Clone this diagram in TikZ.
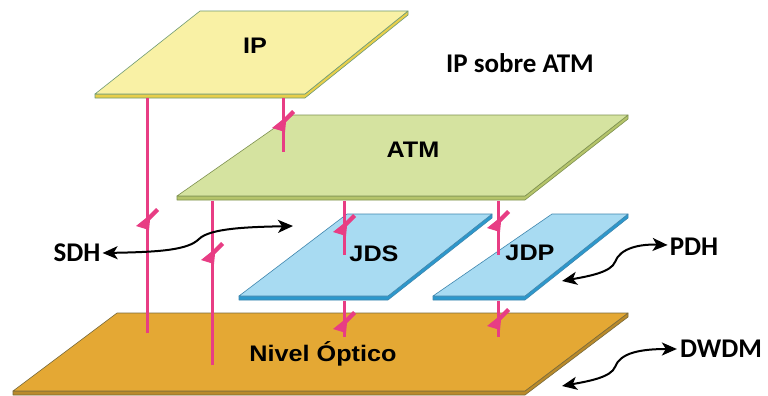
\documentclass[tikz,border=0pt]{standalone}
\usepackage{fontspec}
\usetikzlibrary{arrows.meta}
\newfontfamily\planefont{Liberation Sans}[FakeStretch=1.12]
\newfontfamily\labfont{Carlito}
\definecolor{iptop}{HTML}{F9F1A5}
\definecolor{ipside}{HTML}{E8CF4A}
\definecolor{ipline}{HTML}{6F9A74}
\definecolor{atmtop}{HTML}{D5E3A0}
\definecolor{atmside}{HTML}{B5C46A}
\definecolor{atmline}{HTML}{7E9150}
\definecolor{jtop}{HTML}{A8DBF2}
\definecolor{jside}{HTML}{2C98CC}
\definecolor{jline}{HTML}{3F86AE}
\definecolor{ntop}{HTML}{E4A834}
\definecolor{nside}{HTML}{B98A2A}
\definecolor{nline}{HTML}{7A6A3A}
\definecolor{pinkl}{HTML}{E83D84}
% #1 top, #2 side, #3 outline, #4 top y, #5 top-left x, #6 top-right x, #7 bottom y, #8 bottom-left x, #9 bottom-right x
\newcommand\layerplane[9]{%
  \filldraw[fill=#2,draw=#3,line width=0.6pt,line join=round] (#8,#7) -- (#9,#7) -- (#6,#4) -- (#6,#4+4) -- (#9,#7+4) -- (#8,#7+4) -- cycle;
  \filldraw[fill=#1,draw=#3,line width=0.6pt,line join=round] (#5,#4) -- (#6,#4) -- (#9,#7) -- (#8,#7) -- cycle;
}
\tikzset{
  link/.style={draw=pinkl,line width=3pt},
  brk/.pic={\fill[pinkl,line join=round] (9,-11) -- (12,-8) -- (3,1) -- (2,11) -- (-11,7) -- (-1,-1) -- cycle;},
  planelab/.style={font=\planefont\bfseries\fontsize{22.5}{22.5}\selectfont,anchor=base,inner sep=0pt},
  sidelab/.style={font=\labfont\bfseries\fontsize{27}{27}\selectfont,anchor=base,inner sep=0pt},
  tipa/.tip={Stealth[length=15pt,width=13pt,inset=4pt]},
  dblarrow/.style={line width=2pt,tipa-tipa},
}
\begin{document}
\begin{tikzpicture}[x=1pt,y=-1pt]
\useasboundingbox[fill=white] (0,0) rectangle (768,396);
% planes, from bottom to top
\layerplane{ntop}{nside}{nline}{313}{117}{628}{391}{13}{525}
\layerplane{jtop}{jside}{jline}{214}{347}{492}{296}{239}{388}
\layerplane{jtop}{jside}{jline}{214}{552}{628}{296}{433}{525}
\layerplane{atmtop}{atmside}{atmline}{115}{293}{628}{196}{177}{525}
\layerplane{iptop}{ipside}{ipline}{11}{200}{408}{94}{95}{305}
% vertical links
\coordinate (a1) at (147,98);  \coordinate (b1) at (147,333);
\coordinate (a2) at (283,98);  \coordinate (b2) at (283,152);
\coordinate (a3) at (212,201); \coordinate (b3) at (212,365);
\coordinate (a4) at (344,201); \coordinate (b4) at (344,255);
\coordinate (c4) at (344,301); \coordinate (d4) at (344,337);
\coordinate (a5) at (498,201); \coordinate (b5) at (498,255);
\coordinate (c5) at (498,301); \coordinate (d5) at (498,337);
\draw[link] (a1) -- (b1);
\draw[link] (a2) -- (b2);
\draw[link] (a3) -- (b3);
\draw[link] (a4) -- (b4);
\draw[link] (c4) -- (d4);
\draw[link] (a5) -- (b5);
\draw[link] (c5) -- (d5);
\pic at (147,219) {brk};
\pic at (283,121) {brk};
\pic at (212,253) {brk};
\pic at (344,225) {brk};
\pic at (344,322) {brk};
\pic at (498,221) {brk};
\pic at (498,319) {brk};
% labels
\node[planelab] (ip) at (255,53) {IP};
\node[planelab] (atm) at (413,157) {ATM};
\node[planelab] (jds) at (374,261) {JDS};
\node[planelab] (jdp) at (530,260) {JDP};
\node[planelab] (nivel) at (323,361) {Nivel Óptico};
\node[sidelab] (ipatm) at (520,72) {IP sobre ATM};
\node[sidelab] (sdh) at (77,261) {SDH};
\node[sidelab] (pdh) at (694,255) {PDH};
\node[sidelab] (dwdm) at (721,357) {DWDM};
% curly double arrows
\coordinate (sdhend) at (293,226);
\coordinate (pdhend) at (562,281);
\coordinate (dwdmend) at (562,386);
\draw[dblarrow] ([xshift=2pt]sdh.east |- 0,253) .. controls (160,252) and (188,250) .. (199,239) .. controls (210,228) and (250,227) .. (sdhend);
\draw[dblarrow] (pdhend) .. controls (590,276) and (611,272) .. (615,262) .. controls (620,248) and (640,244) .. ([xshift=-2pt]pdh.west |- 0,245);
\draw[dblarrow] (dwdmend) .. controls (590,381) and (611,377) .. (615,367) .. controls (620,353) and (640,349) .. ([xshift=-3pt]dwdm.west |- 0,349);
\end{tikzpicture}
\end{document}
